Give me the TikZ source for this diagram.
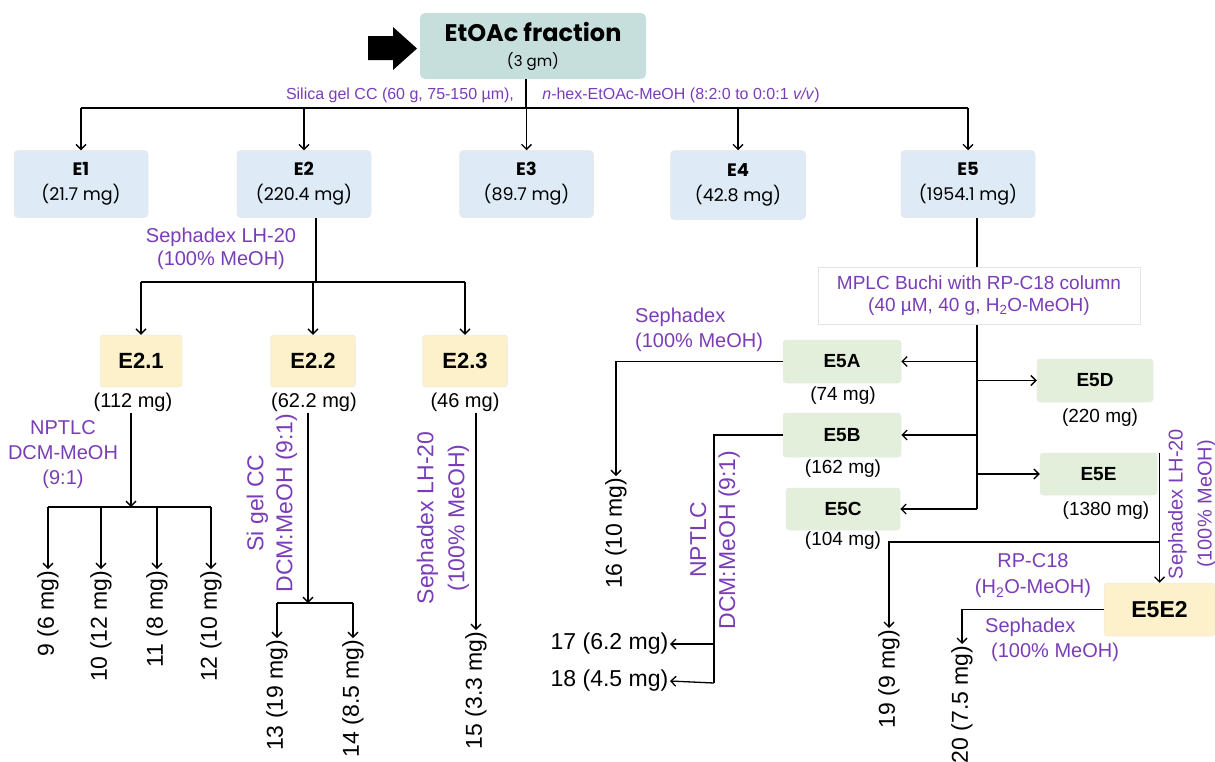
\documentclass[tikz,border=0pt]{standalone}
\usepackage{fontspec}
\setmainfont{Liberation Sans}
\newfontfamily\gothic{Poppins}
\usetikzlibrary{arrows.meta}
\definecolor{lblue}{HTML}{DEEBF7}
\definecolor{tealbox}{HTML}{C6DFDD}
\definecolor{ylw}{HTML}{FDF1CB}
\definecolor{grn}{HTML}{E3EFDB}
\definecolor{purp}{HTML}{7A3DB8}
\tikzset{
  ln/.style={draw=black, line width=1.3pt},
  arr/.style={ln, -{Straight Barb[length=5pt,width=10pt]}},
  ebox/.style={rounded corners=4pt, fill=lblue, draw=black!10, line width=0.5pt,
    minimum width=134pt, minimum height=67pt, inner sep=0pt, align=center,
    font=\gothic\fontsize{17.5}{25}\selectfont},
  ybox/.style={rounded corners=3pt, fill=ylw, draw=black!8, line width=0.5pt,
    minimum height=52pt, inner sep=0pt, font=\bfseries\fontsize{22}{26}\selectfont},
  gbox/.style={rounded corners=3pt, fill=grn, draw=black!8, line width=0.5pt,
    minimum height=43pt, inner sep=0pt, font=\bfseries\fontsize{19}{22}\selectfont},
  mass/.style={inner sep=1pt, font=\fontsize{19}{22}\selectfont},
  cmpd/.style={inner sep=1.5pt, font=\fontsize{23}{26}\selectfont},
  lab/.style={text=purp, inner sep=1pt, align=center, font=\fontsize{20}{25}\selectfont},
  rlab/.style={text=purp, inner sep=1pt, align=center, rotate=90, font=\fontsize{23}{29}\selectfont},
  toplab/.style={text=purp, inner sep=1pt, font=\fontsize{16}{19}\selectfont}
}
\begin{document}
\begin{tikzpicture}[x=1pt,y=-1pt]
\useasboundingbox (0,0) rectangle (1215,761);

% top
\fill (368,36) -- (393,36) -- (393,27) -- (417,48.5) -- (393,70) -- (393,60) -- (368,60) -- cycle;
\node[rounded corners=5pt, fill=tealbox, minimum width=226pt, minimum height=66pt, inner sep=0pt, align=center,
  font=\gothic\fontsize{15}{25}\selectfont]
  (etoac) at (533,46) {{\bfseries\fontsize{24}{25}\selectfont EtOAc fraction}\\(3 gm)};
\coordinate (bus1) at (526,108);
\node[toplab] (silica) at (400,95) {Silica gel CC (60 g, 75-150 µm),};
\node[toplab] (nhex) at (681,95) {\textit{n}-hex-EtOAc-MeOH (8:2:0 to 0:0:1 \textit{v/v})};

\node[ebox] (e1) at (81,184) {{\bfseries\fontsize{18}{25}\selectfont E1}\\(21.7 mg)};
\node[ebox] (e2) at (304,184) {{\bfseries\fontsize{18}{25}\selectfont E2}\\(220.4 mg)};
\node[ebox] (e3) at (526.5,184) {{\bfseries\fontsize{18}{25}\selectfont E3}\\(89.7 mg)};
\node[ebox, minimum width=135pt, minimum height=69pt] (e4) at (738,185) {{\bfseries\fontsize{18}{25}\selectfont E4}\\(42.8 mg)};
\node[ebox] (e5) at (968,184) {{\bfseries\fontsize{18}{25}\selectfont E5}\\(1954.1 mg)};

\draw[ln] (etoac.south -| bus1) -- (bus1);
\draw[ln] (bus1 -| e1) -- (bus1 -| e5);
\foreach \n in {e1,e2,e3,e4,e5} \draw[arr] (bus1 -| \n) -- (\n.north);

% E2 branch
\coordinate (bus2) at (316,282);
\node[lab, font=\fontsize{20}{23}\selectfont] (seph1) at (221,249) {Sephadex LH-20\\(100\% MeOH)};
\node[ybox, minimum width=82pt] (e21) at (141,361) {E2.1};
\node[ybox, minimum width=85pt] (e22) at (313,361) {E2.2};
\node[ybox, minimum width=85pt] (e23) at (465,361) {E2.3};
\draw[ln] (e2.south -| bus2) -- (bus2);
\draw[ln] (bus2 -| e21) -- (bus2 -| e23);
\foreach \n in {e21,e22,e23} \draw[arr] (bus2 -| \n) -- (\n.north);
\node[mass, font=\fontsize{20}{23}\selectfont] (m21) at (133,402) {(112 mg)};
\node[mass, font=\fontsize{20}{23}\selectfont] (m22) at (314,402) {(62.2 mg)};
\node[mass, font=\fontsize{20}{23}\selectfont] (m23) at (465,402) {(46 mg)};

% E2.1 children
\coordinate (bus3) at (131,507);
\node[lab] (nptlc1) at (63,455) {NPTLC\\DCM-MeOH\\(9:1)};
\node[cmpd, rotate=90, anchor=east] (c9) at (48,569) {9 (6 mg)};
\node[cmpd, rotate=90, anchor=east] (c10) at (101,569) {10 (12 mg)};
\node[cmpd, rotate=90, anchor=east] (c11) at (157,569) {11 (8 mg)};
\node[cmpd, rotate=90, anchor=east] (c12) at (211,569) {12 (10 mg)};
\draw[arr] (m21.south -| bus3) -- (bus3);
\draw[ln] (bus3 -| c9) -- (bus3 -| c12);
\foreach \n in {c9,c10,c11,c12} \draw[arr] (bus3 -| \n) -- (\n.east);

% E2.2 children
\coordinate (bus4) at (308,603);
\node[rlab] (sigel) at (272,503) {Si gel CC\\DCM:MeOH (9:1)};
\node[cmpd, rotate=90, anchor=east] (c13) at (277,638) {13 (19 mg)};
\node[cmpd, rotate=90, anchor=east] (c14) at (353,638) {14 (8.5 mg)};
\draw[arr] (m22.south -| bus4) -- (bus4);
\draw[ln] (bus4 -| c13) -- (bus4 -| c14);
\foreach \n in {c13,c14} \draw[arr] (bus4 -| \n) -- (\n.east);

% E2.3 child
\node[rlab, font=\fontsize{23}{31}\selectfont] (seph2) at (443,518) {Sephadex LH-20\\(100\% MeOH)};
\node[cmpd, rotate=90, anchor=east] (c15) at (476,630) {15 (3.3 mg)};
\draw[arr] (m23.south -| c15) -- (c15.east);

% E5 branch
\coordinate (v5) at (977,509);
\draw[ln] (e5.south -| v5) -- (v5);
\node[fill=white, draw=black!10, line width=0.5pt, minimum width=322pt, minimum height=57pt, inner sep=0pt,
  text=purp, align=center, font=\fontsize{19}{22}\selectfont] (mplc) at (979,295.5)
  {MPLC Buchi with RP-C18 column\\(40 µM, 40 g, H\textsubscript{2}O-MeOH)};

\node[gbox, minimum width=118pt] (e5a) at (842,361.5) {E5A};
\node[gbox, minimum width=118pt, minimum height=44pt] (e5b) at (842,435) {E5B};
\node[gbox, minimum width=114pt, minimum height=42pt] (e5c) at (843,509) {E5C};
\node[gbox, minimum width=116pt] (e5d) at (1095,380.5) {E5D};
\node[gbox, minimum width=117pt, minimum height=42pt] (e5e) at (1098.5,474) {E5E};
\node[mass] (m5a) at (843,396) {(74 mg)};
\node[mass] (m5b) at (843,469) {(162 mg)};
\node[mass] (m5c) at (843,541) {(104 mg)};
\node[mass] (m5d) at (1100,418) {(220 mg)};
\node[mass] (m5e) at (1106,511) {(1380 mg)};
\foreach \n in {e5a,e5b,e5c} \draw[arr] (v5 |- \n) -- (\n.east);
\foreach \n in {e5d,e5e} \draw[arr] (v5 |- \n) -- (\n.west);

% E5A child
\node[lab, align=left, anchor=west] (seph3) at (634,330) {Sephadex\\(100\% MeOH)};
\node[cmpd, rotate=90, anchor=east] (c16) at (616,476) {16 (10 mg)};
\draw[arr] (e5a.west) -| (c16.east);

% E5B children
\coordinate (v5b) at (714,683);
\node[rlab] (nptlc2) at (715,540) {NPTLC\\DCM:MeOH (9:1)};
\node[cmpd, anchor=east] (c17) at (670,644) {17 (6.2 mg)};
\node[cmpd, anchor=east] (c18) at (670,681) {18 (4.5 mg)};
\draw[ln] (e5b.west) -| (v5b);
\draw[arr] (v5b |- c17) -- (c17.east);
\draw[arr] (v5b) -- (c18.east);

% E5E children
\node[ybox, minimum width=111pt, minimum height=53pt, font=\bfseries\fontsize{23}{26}\selectfont] (e5e2) at (1159.5,609.5) {E5E2};
\node[rlab, font=\fontsize{20}{29}\selectfont] (seph4) at (1192,504) {Sephadex LH-20\\(100\% MeOH)};
\coordinate (v5e) at (1159.5,542);
\draw[arr] (e5e.north east -| e5e2.north) -- (e5e2.north);
\node[cmpd, rotate=90, anchor=east] (c19) at (889,628) {19 (9 mg)};
\draw[arr] (v5e) -| (c19.east);
\node[lab, font=\fontsize{20}{26}\selectfont] (rpc18) at (1033,576) {RP-C18\\(H\textsubscript{2}O-MeOH)};

% E5E2 child
\node[cmpd, rotate=90, anchor=east] (c20) at (962,644) {20 (7.5 mg)};
\draw[arr] (e5e2.west) -| (c20.east);
\node[lab, align=left, anchor=west] (seph5) at (984,639.5) {Sephadex\\\hspace*{6pt}(100\% MeOH)};
\end{tikzpicture}
\end{document}
